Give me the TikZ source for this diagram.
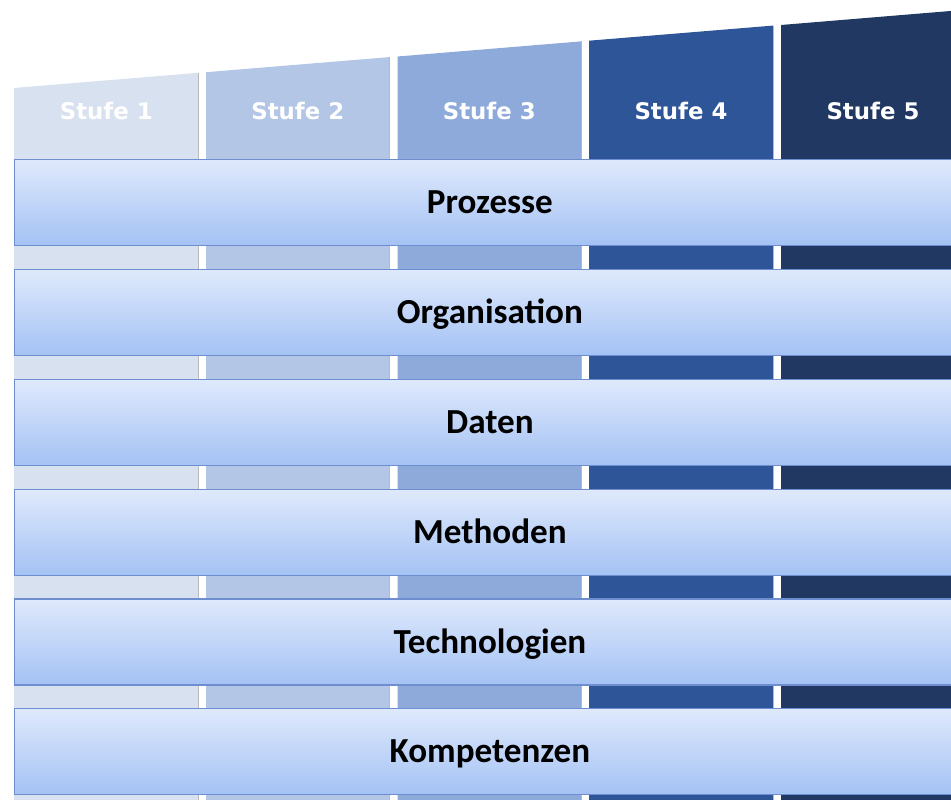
\documentclass[tikz,border=0pt]{standalone}
\usepackage{fontspec}
\setmainfont{Carlito}
\newfontfamily\stufefont{DejaVu Sans}
\definecolor{stA}{HTML}{D8E1EF}
\definecolor{stB}{HTML}{B4C6E6}
\definecolor{stC}{HTML}{8EAADB}
\definecolor{stD}{HTML}{2E5597}
\definecolor{stE}{HTML}{213863}
\definecolor{bartop}{HTML}{DFE9FC}
\definecolor{barbot}{HTML}{A4C2F4}
\definecolor{barline}{HTML}{6F8ED0}
\begin{document}
\begin{tikzpicture}[x=0.02cm, y=-0.02cm,%
% common options for the steps:
stufe/.style = {font=\stufefont\bfseries\fontsize{13}{15}\selectfont, text=white,
            text height=9.5pt, text depth=0pt, inner sep=0, anchor=center},
% common options for the bars:
bar/.style = {draw=barline, line width=0.6pt, top color=bartop, bottom color=barbot,
            font=\bfseries\fontsize{20}{23}\selectfont, text height=12.9pt, text depth=0pt,
            minimum width=19.02cm, minimum height=1.72cm, inner sep=0, anchor=north west},
% edge between the steps:
edge/.style = {draw=gray!55, line width=0.5pt}]
\useasboundingbox (0,0) rectangle (951,800);
\clip (0,0) rectangle (951,800);
\fill[stA] (14,88) -- (198.5,72.8) -- (198.5,800) -- (14,800) -- cycle;
\fill[stB] (206,72.2) -- (389.5,57.1) -- (389.5,800) -- (206,800) -- cycle;
\fill[stC] (397.5,56.5) -- (581,41.4) -- (581,800) -- (397.5,800) -- cycle;
\fill[stD] (589,40.7) -- (773,25.6) -- (773,800) -- (589,800) -- cycle;
\fill[stE] (781,25.0) -- (965,9.8) -- (965,800) -- (781,800) -- cycle;
\draw[edge] (198.5,72.8) -- (198.5,800);
\draw[edge] (389.5,57.1) -- (389.5,800);
\draw[edge] (581,41.4) -- (581,800);
\draw[edge] (773,25.6) -- (773,800);
\node[stufe] (S1) at (106.3,111) {Stufe 1};
\node[stufe] (S2) at (297.8,111) {Stufe 2};
\node[stufe] (S3) at (489.3,111) {Stufe 3};
\node[stufe] (S4) at (681,111) {Stufe 4};
\node[stufe] (S5) at (873,111) {Stufe 5};
\node[bar] (B1) at (14,159) {Prozesse};
\node[bar] (B2) at (14,269) {Organisation};
\node[bar] (B3) at (14,379) {Daten};
\node[bar] (B4) at (14,489) {Methoden};
\node[bar] (B5) at (14,598.5) {Technologien};
\node[bar] (B6) at (14,708) {Kompetenzen};
\end{tikzpicture}
\end{document}
